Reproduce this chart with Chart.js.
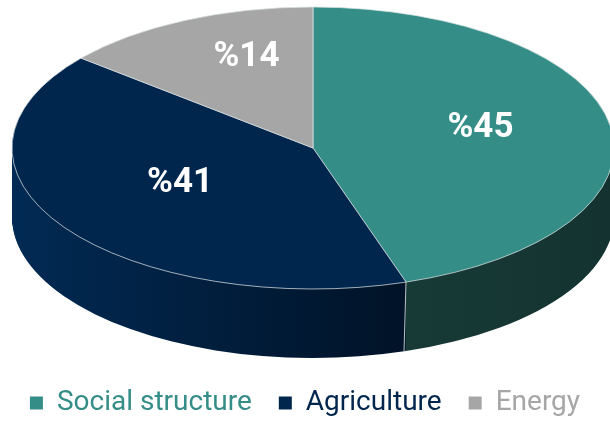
<!DOCTYPE html>
<html><head><meta charset="utf-8">
<script src="https://cdn.jsdelivr.net/npm/chart.js@4.4.0/dist/chart.umd.min.js"></script>
<style>html,body{margin:0;padding:0;background:#fff;}#c{display:block;}</style>
</head><body>
<canvas id="c" width="610" height="421"></canvas>
<script>
// ---- data ----
const categories = ['Social structure', 'Agriculture', 'Energy'];
const values = [45, 41, 14];
const valueLabels = ['%45', '%41', '%14'];

// ---- styles ----
const topColors = ['#358d87', '#01264d', '#a6a6a6'];
const sideLight = ['#1d4742', '#012a54', '#7a7a7a'];
const sideDark  = ['#143330', '#00060f', '#5a5a5a'];

// ---- projection geometry (ellipse of the pie top) ----
const GEO = { cx: 313, cy: 148, rx: 301, ry: 141, depth: 69 };

const pie3d = {
  id: 'pie3d',
  beforeDatasetsDraw(chart) {
    const ctx = chart.ctx;
    const meta = chart.getDatasetMeta(0);
    const el0 = meta.data[0];
    const R = el0.outerRadius, ex = el0.x, ey = el0.y;
    const apply = (k) => {
      ctx.translate(GEO.cx, GEO.cy + k);
      ctx.scale(GEO.rx / R, GEO.ry / R);
      ctx.translate(-ex, -ey);
    };
    for (let k = GEO.depth; k >= 1; k--) {
      ctx.save();
      apply(k);
      meta.data.forEach((el, i) => {
        const g = ctx.createLinearGradient(ex - R, 0, ex + R, 0);
        g.addColorStop(0, sideLight[i]);
        g.addColorStop(1, sideDark[i]);
        const c = Object.create(el);
        c.options = Object.assign({}, el.options, { backgroundColor: g, borderWidth: 0 });
        c.draw(ctx);
      });
      ctx.restore();
    }
    ctx.save();
    apply(0);
  },
  afterDatasetsDraw(chart) {
    const ctx = chart.ctx;
    ctx.restore();
    const meta = chart.getDatasetMeta(0);
    const el0 = meta.data[0];
    const R = el0.outerRadius, ex = el0.x, ey = el0.y;
    const toScreen = (px, py) => [GEO.cx + (px - ex) * GEO.rx / R, GEO.cy + (py - ey) * GEO.ry / R];
    // seam on the side at the end of first slice
    const a = el0.endAngle;
    const [sx, sy] = toScreen(ex + R * Math.cos(a), ey + R * Math.sin(a));
    ctx.save();
    ctx.strokeStyle = '#b9c3c5';
    ctx.lineWidth = 1;
    ctx.beginPath();
    ctx.moveTo(sx, sy);
    ctx.lineTo(sx - 2, sy + GEO.depth);
    ctx.stroke();
    // value labels
    ctx.fillStyle = '#ffffff';
    ctx.font = 'bold 35px Roboto';
    ctx.textAlign = 'center';
    ctx.textBaseline = 'middle';
    meta.data.forEach((el, i) => {
      const mid = (el.startAngle + el.endAngle) / 2;
      const v = Math.sin(mid); // <0 = far side of the disc
      const [lx, ly] = toScreen(ex + 0.55 * R * Math.cos(mid), ey + 0.55 * R * Math.sin(mid));
      ctx.fillText(valueLabels[i], lx + 4, ly - 8 + 20 * Math.min(0, v + 0.3));
    });
    ctx.restore();
  }
};

new Chart(document.getElementById('c'), {
  type: 'pie',
  data: {
    labels: categories,
    datasets: [{
      data: values,
      backgroundColor: topColors,
      borderColor: '#dde5e6',
      borderWidth: 0.6,
      clip: false
    }]
  },
  options: {
    responsive: false,
    animation: false,
    layout: { padding: { bottom: -6 } },
    plugins: {
      tooltip: { enabled: false },
      legend: {
        position: 'bottom',
        labels: {
          boxWidth: 13,
          boxHeight: 13,
          padding: 27,
          font: { family: 'Roboto', size: 28, lineHeight: 1 },
          generateLabels() {
            return categories.map((c, i) => ({
              text: c, fillStyle: topColors[i], strokeStyle: topColors[i],
              lineWidth: 0, fontColor: topColors[i], index: i, hidden: false
            }));
          }
        }
      }
    }
  },
  plugins: [pie3d]
});
</script>
</body></html>
